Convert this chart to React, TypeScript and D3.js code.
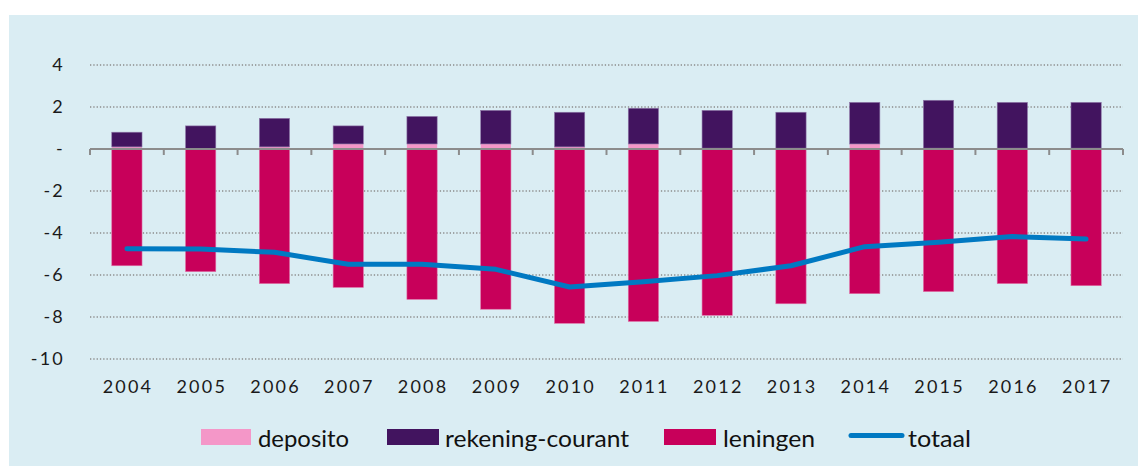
import React from "react";
import * as d3 from "d3";

const years = ["2004","2005","2006","2007","2008","2009","2010","2011","2012","2013","2014","2015","2016","2017"];
const deposito = [0.1, 0.03, 0.1, 0.24, 0.24, 0.24, 0.1, 0.24, 0.04, 0.04, 0.24, 0.04, 0.04, 0.04];
const rekeningCourant = [0.7, 1.07, 1.36, 0.86, 1.31, 1.6, 1.65, 1.7, 1.8, 1.71, 1.98, 2.28, 2.18, 2.18];
const leningen = [-5.56, -5.84, -6.41, -6.59, -7.16, -7.63, -8.3, -8.21, -7.92, -7.37, -6.89, -6.79, -6.41, -6.51];
const totaal = [-4.75, -4.76, -4.92, -5.49, -5.49, -5.73, -6.57, -6.32, -6.03, -5.56, -4.65, -4.44, -4.17, -4.29];
const yTicks = [4, 2, 0, -2, -4, -6, -8, -10];
const yTickLabels = ["4", "2", "-", "-2", "-4", "-6", "-8", "-10"];

const W = 1138, H = 466;
const COL = { dep: "#f497c8", rek: "#42145f", len: "#c8005a", tot: "#0079c2", bg: "#daedf3" };
const FONT = "Lato, 'Open Sans', sans-serif";

export default function App() {
  const x = d3.scaleBand<string>().domain(years).range([90, 1123]).paddingInner(0.59).paddingOuter(0.295);
  const y = d3.scaleLinear().domain([-10, 4]).range([359, 65]);
  const line = d3.line<number>().x((_, i) => (x(years[i]) as number) + x.bandwidth() / 2).y(d => y(d));
  const step = x.step();
  const legend = [
    { label: "deposito", color: COL.dep, x: 201, rw: 50, tx: 258, w: 91, type: "rect" },
    { label: "rekening-courant", color: COL.rek, x: 387, rw: 52, tx: 445, w: 184, type: "rect" },
    { label: "leningen", color: COL.len, x: 664, rw: 52, tx: 723, w: 92, type: "rect" },
    { label: "totaal", color: COL.tot, x: 851, rw: 51, tx: 908, w: 63, type: "line" },
  ];
  return (
    <svg width={W} height={H} style={{ position: "absolute", left: 0, top: 0, display: "block" }}>
      <rect x={9} y={15} width={W - 9} height={H - 15} fill={COL.bg} />
      {yTicks.map((t, i) => (
        <g key={t}>
          {t !== 0 && (
            <line x1={90} x2={1123} y1={y(t)} y2={y(t)} stroke="#8c8c8c" strokeWidth={1.3} strokeDasharray="1.3 2" />
          )}
          <text x={65} y={y(t)} dy="0.36em" textAnchor="end" fontFamily={FONT} fontSize={18} letterSpacing={2.2} fill="#1a1a1a">
            {yTickLabels[i]}
          </text>
        </g>
      ))}
      {years.map((yr, i) => {
        const bx = x(yr) as number;
        const bw = x.bandwidth();
        const d0 = y(0), d1 = y(deposito[i]), r1 = y(deposito[i] + rekeningCourant[i]);
        return (
          <g key={yr}>
            <rect x={bx} y={d1} width={bw} height={d0 - d1} fill={COL.dep} />
            <rect x={bx} y={r1} width={bw} height={d1 - r1} fill={COL.rek} stroke="#8f78a8" strokeWidth={0.6} />
            <rect x={bx} y={d0} width={bw} height={y(leningen[i]) - d0} fill={COL.len} stroke="#e070a6" strokeWidth={0.6} />
            <text x={bx + bw / 2 + 1.1} y={386.5} dy="0.36em" textAnchor="middle" fontFamily={FONT} fontSize={18} letterSpacing={2.2} fill="#1a1a1a">
              {yr}
            </text>
          </g>
        );
      })}
      <line x1={90} x2={1123} y1={y(0)} y2={y(0)} stroke="#8c8c8c" strokeWidth={2} />
      {d3.range(years.length + 1).map(k => (
        <line key={k} x1={90 + k * step} x2={90 + k * step} y1={y(0)} y2={y(0) + 6} stroke="#8c8c8c" strokeWidth={2} />
      ))}
      <path d={line(totaal) || ""} fill="none" stroke={COL.tot} strokeWidth={5} strokeLinecap="round" strokeLinejoin="round" />
      {legend.map(l => (
        <g key={l.label}>
          {l.type === "rect" ? (
            <rect x={l.x} y={429} width={l.rw} height={16} fill={l.color} />
          ) : (
            <line x1={l.x} x2={l.x + l.rw} y1={435.5} y2={435.5} stroke={l.color} strokeWidth={5} strokeLinecap="round" />
          )}
          <text x={l.tx} y={446.7} fontFamily={FONT} fontSize={24} textLength={l.w} lengthAdjust="spacingAndGlyphs" fill="#111">
            {l.label}
          </text>
        </g>
      ))}
    </svg>
  );
}
